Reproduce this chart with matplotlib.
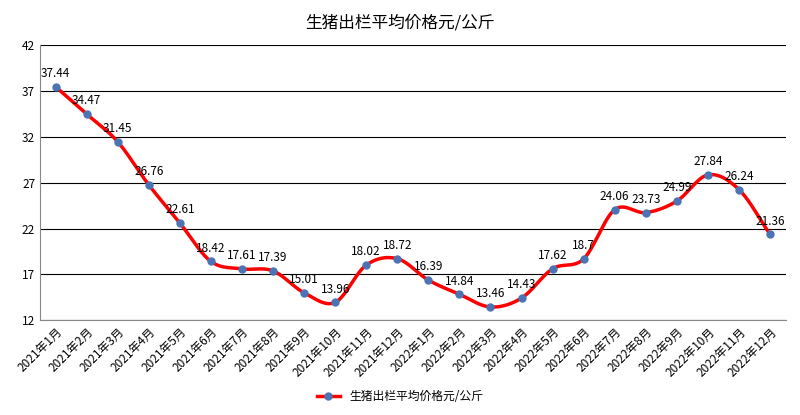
import numpy as np
import matplotlib.pyplot as plt
from matplotlib import font_manager as fm

# pick up a CJK font by file, the family name alone didn't resolve
cjk = [f for f in fm.findSystemFonts() if "CJK" in f or "cjk" in f.lower()]
if cjk:
    fm.fontManager.addfont(sorted(cjk)[0])
    plt.rcParams["font.family"] = fm.FontProperties(fname=sorted(cjk)[0]).get_name()
else:
    plt.rcParams["font.family"] = ["Noto Sans CJK SC", "Noto Sans CJK JP", "DejaVu Sans"]

MONTHS = [f"2021年{m}月" for m in range(1, 13)] + [f"2022年{m}月" for m in range(1, 13)]
PRICES = [37.44, 34.47, 31.45, 26.76, 22.61, 18.42, 17.61, 17.39, 15.01, 13.96, 18.02, 18.72,
          16.39, 14.84, 13.46, 14.43, 17.62, 18.7, 24.06, 23.73, 24.99, 27.84, 26.24, 21.36]
TITLE = "生猪出栏平均价格元/公斤"


def catmull_rom(x, y, n=20):
    # smooth curve through the points, like Excel's smoothed line
    px = np.concatenate([[2 * x[0] - x[1]], x, [2 * x[-1] - x[-2]]])
    py = np.concatenate([[2 * y[0] - y[1]], y, [2 * y[-1] - y[-2]]])
    xs, ys = [], []
    t = np.linspace(0, 1, n, endpoint=False)
    for i in range(1, len(px) - 2):
        for p, out in ((px, xs), (py, ys)):
            p0, p1, p2, p3 = p[i - 1], p[i], p[i + 1], p[i + 2]
            out.extend(0.5 * (2 * p1 + (-p0 + p2) * t + (2 * p0 - 5 * p1 + 4 * p2 - p3) * t**2
                              + (-p0 + 3 * p1 - 3 * p2 + p3) * t**3))
    xs.append(x[-1]); ys.append(y[-1])
    return np.array(xs), np.array(ys)


x = np.arange(len(PRICES), dtype=float)
y = np.array(PRICES)
sx, sy = catmull_rom(x, y)

fig = plt.figure(figsize=(8, 4.15), dpi=100)
ax = fig.add_axes([0.05, 0.228, 0.932, 0.664])
ax.plot(sx, sy, color="red", lw=2.5, zorder=2)
ax.plot(x, y, "o", color="#4a74b4", ms=5, zorder=3)
for xi, yi in zip(x, y):
    ax.annotate(f"{yi:g}", (xi, yi), xytext=(0, 7), textcoords="offset points",
                ha="center", fontsize=8.5)

ax.set_xlim(-0.5, len(PRICES) - 0.5)
ax.set_ylim(12, 42)
ax.set_yticks(range(12, 43, 5))
ax.yaxis.grid(True, color="black", lw=0.8)
ax.set_axisbelow(True)
ax.set_xticks(x)
ax.set_xticklabels(MONTHS, rotation=45, ha="right", rotation_mode="anchor", fontsize=8.5)
ax.tick_params(axis="y", labelsize=8.5, length=0)
ax.tick_params(axis="x", length=0)
for s in ["top", "right"]:
    ax.spines[s].set_visible(False)
ax.spines["left"].set_color("#888888")
ax.spines["bottom"].set_color("#888888")

fig.text(0.5, 0.945, TITLE, ha="center", va="center", fontsize=12)
fig.legend(handles=[plt.Line2D([], [], color="red", lw=2.5, marker="o",
                               mfc="#4a74b4", mec="#4a74b4", ms=5)],
           labels=[TITLE], loc="center", bbox_to_anchor=(0.5, 0.045),
           frameon=False, fontsize=8.5)
fig.savefig("out.png")
